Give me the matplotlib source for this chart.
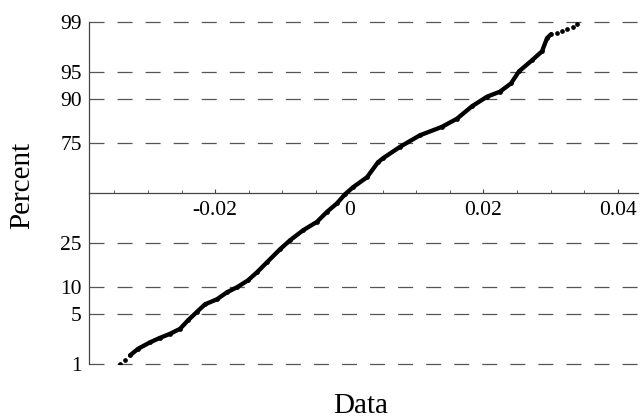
import matplotlib
matplotlib.use("Agg")
import matplotlib.pyplot as plt
from matplotlib.ticker import MultipleLocator, FuncFormatter
from statistics import NormalDist
import numpy as np

# valores (dato ordenado, percentil)
data_x = [-0.03417, -0.03343, -0.03268, -0.03149, -0.02970, -0.02821, -0.02672,
          -0.02523, -0.02404, -0.02270, -0.02150, -0.01972, -0.01823, -0.01674,
          -0.01510, -0.01376, -0.01227, -0.01033, -0.00884, -0.00690, -0.00481,
          -0.00332, -0.00183, -0.00064, 0.00055, 0.00264, 0.00428, 0.00503,
          0.00756, 0.01054, 0.01382, 0.01605, 0.01829, 0.02053, 0.02246,
          0.02410, 0.02529, 0.02723, 0.02872, 0.02947, 0.03006,
          0.03096, 0.03170, 0.03245, 0.03334, 0.03394]
percent = [1.01, 1.14, 1.36, 1.70, 2.11, 2.44, 2.77,
           3.23, 4.16, 5.30, 6.50, 7.41, 8.84, 9.98,
           11.74, 14.03, 17.29, 22.18, 25.98, 30.57, 34.76,
           39.9, 44.43, 49.3, 53.1, 58.5, 66.2, 68.2,
           73.5, 78.4, 81.6, 84.4, 88.1, 90.5, 91.6,
           93.2, 95.1, 96.45, 97.3, 98.24, 98.46,
           98.51, 98.61, 98.70, 98.79, 98.93]

grid_pct = [1, 5, 10, 25, 75, 90, 95, 99]
x_major = [-0.02, 0, 0.02, 0.04]

nd = NormalDist()
_inv = np.vectorize(lambda v: nd.inv_cdf(v / 100.0), otypes=[float])
_cdf = np.vectorize(lambda v: 100.0 * nd.cdf(v), otypes=[float])

def to_z(p):
    p = np.clip(np.asarray(p, dtype=float), 1e-6, 100 - 1e-6)
    return _inv(p)

def to_pct(z):
    return _cdf(np.asarray(z, dtype=float))

plt.rcParams['font.family'] = ['Liberation Serif', 'DejaVu Serif']
plt.rcParams['axes.unicode_minus'] = False
plt.rcParams['lines.scale_dashes'] = False

fig = plt.figure(figsize=(6.42, 4.19), dpi=100)
ax = fig.add_axes([89.3 / 642, 55 / 419, (638 - 89.3) / 642, (364 - 22) / 419])
ax.set_yscale('function', functions=(to_z, to_pct))

# lineas de referencia discontinuas
for p in grid_pct:
    ax.axhline(p, color='#555555', lw=0.9, ls=(0, (10.8, 9.4)), clip_on=False, zorder=1)

# curva
ax.plot(data_x[2:41], percent[2:41], color='black', lw=3.1, solid_joinstyle='round',
        solid_capstyle='round', zorder=3)
ax.plot(data_x, percent, 'o', color='black', ms=3.4, mew=0, zorder=3)

ax.set_xlim(-0.03875, 0.04303)
ax.set_ylim(1, 99)

for s in ['top', 'right']:
    ax.spines[s].set_visible(False)
ax.spines['bottom'].set_position(('data', 50))
for s in ['left', 'bottom']:
    ax.spines[s].set_color('#444444')
    ax.spines[s].set_linewidth(0.9)

ax.set_xticks(x_major)
ax.xaxis.set_major_formatter(FuncFormatter(lambda v, pos: '%g' % round(v, 4)))
ax.xaxis.set_minor_locator(MultipleLocator(0.005))
ax.tick_params(axis='x', which='both', direction='in', color='#444444', labelsize=15.5, pad=5.5)
ax.tick_params(axis='x', which='major', length=3)
ax.tick_params(axis='x', which='minor', length=2.5)

ax.set_yticks(grid_pct)
ax.set_yticklabels([str(p) for p in grid_pct])
ax.yaxis.set_minor_locator(plt.NullLocator())
ax.tick_params(axis='y', which='both', length=0, labelsize=15.5, pad=5.5)

fig.text(22.5 / 642, 1 - 185 / 419, 'Percent', rotation=90, ha='center', va='center', fontsize=21)
fig.text(360.5 / 642, 6 / 419, 'Data', ha='center', va='baseline', fontsize=21)

fig.savefig('out.png', dpi=100)
